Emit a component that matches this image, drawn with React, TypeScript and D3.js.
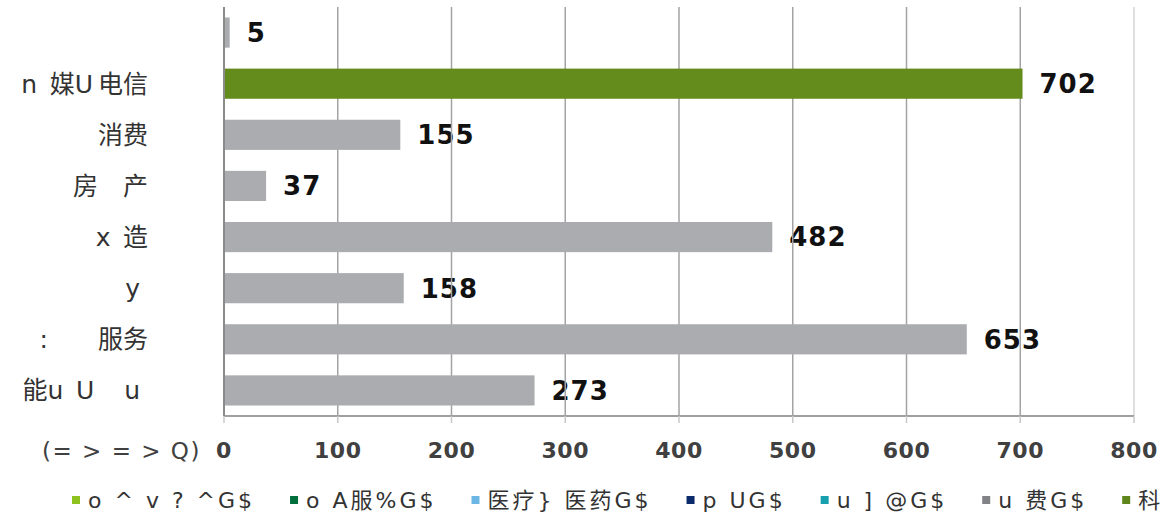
import { useEffect, useRef } from "react";
import * as d3 from "d3";

const WIDTH = 1162;
const HEIGHT = 518;
const X0 = 224;
const X1 = 1134;
const TOP = 7;
const BOTTOM = 416;

const categories = [
  "",
  "n\u2002媒U\u2009电信",
  "消费",
  "房\u3000产",
  "x\u2002造",
  "y ",
  ":\u3000\u3000服务",
  "能u\u2002U\u3000\u2009u ",
];
const values = [5, 702, 155, 37, 482, 158, 653, 273];
const highlighted = [1];
const xTicks = [0, 100, 200, 300, 400, 500, 600, 700, 800];
const axisTitle = "(= > = > Q)";

const legendLabels = ["o ^ v ? ^G$", "o A服%G$", "医疗} 医药G$", "p UG$", "u ] @G$", "u 费G$", "科"];
const legendColors = ["#8dc21f", "#006f3c", "#6cb6e6", "#0b2a6b", "#16a0ad", "#808285", "#5e851e"];

const FONT = "'DejaVu Sans', 'Noto Sans CJK SC', sans-serif";

export default function App() {
  const ref = useRef<SVGSVGElement>(null);

  useEffect(() => {
    const svg = d3.select(ref.current);
    svg.selectAll("*").remove();

    const x = d3.scaleLinear().domain([0, 800]).range([X0, X1]);
    const y = d3
      .scaleBand<string>()
      .domain(categories.map((_, i) => String(i)))
      .range([TOP, BOTTOM])
      .paddingInner(0.41)
      .paddingOuter(0.205);

    // category labels
    svg
      .append("g")
      .selectAll("text")
      .data(categories)
      .join("text")
      .attr("x", 148)
      .attr("y", (_, i) => y(String(i))! + y.bandwidth() / 2)
      .attr("dy", "0.36em")
      .attr("text-anchor", "end")
      .style("white-space", "pre")
      .attr("font-size", 25)
      .attr("fill", "#333")
      .text((d) => d);

    // value labels (drawn under the gridlines, like the original)
    svg
      .append("g")
      .selectAll("text")
      .data(values)
      .join("text")
      .attr("x", (d) => x(d) + 17)
      .attr("y", (_, i) => y(String(i))! + y.bandwidth() / 2)
      .attr("dy", "0.36em")
      .attr("font-size", 26)
      .attr("letter-spacing", 1)
      .attr("font-weight", "bold")
      .attr("fill", "#111")
      .text((d) => d);

    // gridlines
    svg
      .append("g")
      .selectAll("line")
      .data(xTicks.slice(1))
      .join("line")
      .attr("x1", (d) => x(d))
      .attr("x2", (d) => x(d))
      .attr("y1", TOP)
      .attr("y2", BOTTOM)
      .attr("stroke", (d) => (d === 800 ? "#d4d4d4" : "#a3a3a3"))
      .attr("stroke-width", 1.5);

    // bars
    svg
      .append("g")
      .selectAll("rect")
      .data(values)
      .join("rect")
      .attr("x", x(0))
      .attr("y", (_, i) => y(String(i))!)
      .attr("width", (d) => x(d) - x(0))
      .attr("height", y.bandwidth())
      .attr("fill", (_, i) => (highlighted.includes(i) ? "#648c1d" : "#abacb0"));

    // axes
    svg
      .append("line")
      .attr("x1", x(0))
      .attr("x2", x(800))
      .attr("y1", BOTTOM)
      .attr("y2", BOTTOM)
      .attr("stroke", "#a0a0a0")
      .attr("stroke-width", 2);
    svg
      .append("line")
      .attr("x1", x(0))
      .attr("x2", x(0))
      .attr("y1", TOP)
      .attr("y2", BOTTOM)
      .attr("stroke", "#8a8a8a")
      .attr("stroke-width", 2);

    svg
      .append("g")
      .selectAll("line")
      .data(xTicks)
      .join("line")
      .attr("x1", (d) => x(d))
      .attr("x2", (d) => x(d))
      .attr("y1", BOTTOM)
      .attr("y2", BOTTOM + 7)
      .attr("stroke", "#c8c8c8")
      .attr("stroke-width", 1.5);

    svg
      .append("g")
      .selectAll("text")
      .data(xTicks)
      .join("text")
      .attr("x", (d) => x(d))
      .attr("y", 450)
      .attr("dy", "0.36em")
      .attr("text-anchor", "middle")
      .attr("font-size", 22)
      .attr("letter-spacing", 0.5)
      .attr("font-weight", "bold")
      .attr("fill", "#404040")
      .text((d) => d);

    svg
      .append("text")
      .attr("x", 42)
      .attr("y", 451)
      .attr("dy", "0.36em")
      .attr("font-size", 23)
      .attr("letter-spacing", 1.5)
      .attr("fill", "#404040")
      .style("white-space", "pre")
      .text(axisTitle);

    // legend
    const legend = svg.append("g");
    let cx = 72;
    legendLabels.forEach((label, i) => {
      legend
        .append("rect")
        .attr("x", cx)
        .attr("y", 496)
        .attr("width", 8)
        .attr("height", 8)
        .attr("fill", legendColors[i]);
      const t = legend
        .append("text")
        .attr("x", cx + 16)
        .attr("y", 500)
        .attr("dy", "0.36em")
        .attr("font-size", 22)
        .attr("letter-spacing", 3)
        .attr("fill", "#333")
        .style("white-space", "pre")
        .text(label);
      const w = (t.node() as SVGTextElement).getComputedTextLength();
      cx += 16 + w + 35;
    });
  }, []);

  return (
    <svg
      ref={ref}
      width={WIDTH}
      height={HEIGHT}
      style={{ display: "block", position: "absolute", left: 0, top: 0, fontFamily: FONT, background: "#fff" }}
    />
  );
}
